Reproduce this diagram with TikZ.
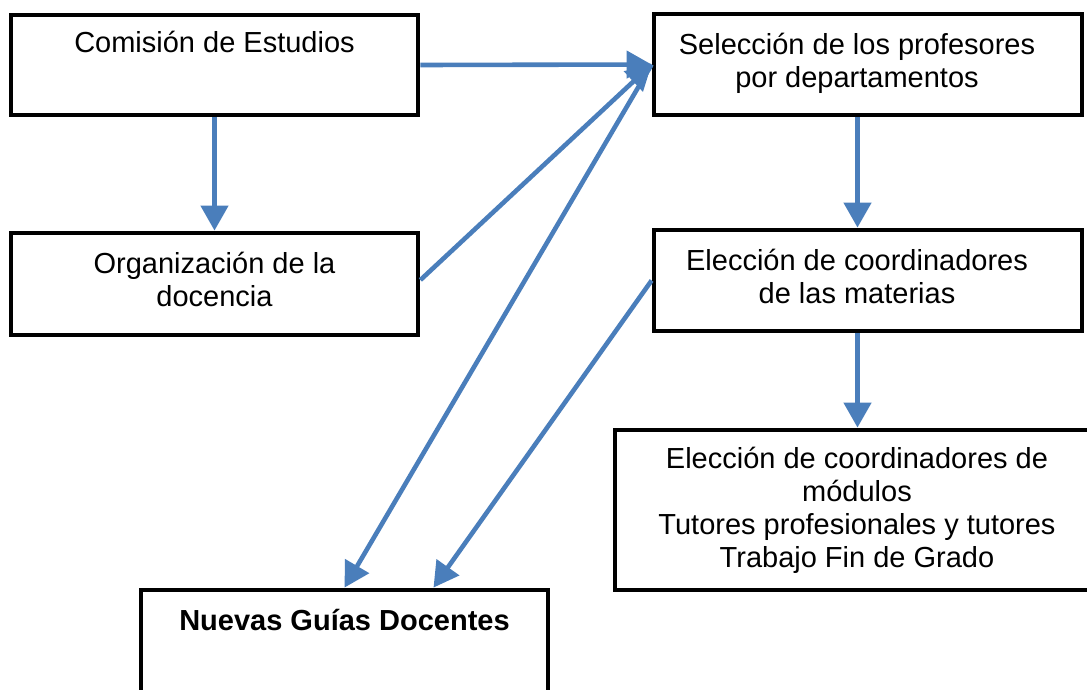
\documentclass[tikz,border=0pt]{standalone}
\usepackage{fontspec}
\setmainfont{Liberation Sans}
\usetikzlibrary{arrows.meta,calc}
\definecolor{arrowblue}{RGB}{74,126,187}
\begin{document}
\begin{tikzpicture}[x=1pt,y=-1pt,
  box/.style={draw=black, line width=4.8pt, inner sep=0pt, fill=none},
  txt/.style={anchor=base, align=center, inner sep=0pt, font=\fontsize{29}{33}\selectfont},
  conn/.style={draw=arrowblue, line width=4.6pt, -{Triangle[length=25pt,width=27pt]}}]
\useasboundingbox (0,0) rectangle (1087,690);
\fill[white] (0,0) rectangle (1087,690);
% boxes
\node[box, minimum width=407pt, minimum height=100pt] (c1) at (214.5,65) {};
\node[box, minimum width=407pt, minimum height=102pt] (c2) at (214.5,284) {};
\node[box, minimum width=428pt, minimum height=101pt] (c3) at (868,64.5) {};
\node[box, minimum width=428pt, minimum height=101pt] (c4) at (868,280.5) {};
\node[box, minimum width=485pt, minimum height=160pt] (c5) at (857.5,510) {};
\node[box, minimum width=407pt, minimum height=130pt] (c6) at (344.5,655) {};
% texts (anchor = baseline of last line)
\node[txt] (t1) at (214.5,53) {Comisión de Estudios};
\node[txt] (t2) at (214.5,306) {Organización de la\\docencia};
\node[txt] (t3) at (857,88) {Selección de los profesores\\por departamentos};
\node[txt] (t4) at (857,303) {Elección de coordinadores\\de las materias};
\node[txt] (t5) at (857,567) {Elección de coordinadores de\\módulos\\Tutores profesionales y tutores\\Trabajo Fin de Grado};
\node[txt, font=\fontsize{29}{33}\selectfont\bfseries] (t6) at (344.5,630) {Nuevas Guías Docentes};
% connectors
\draw[conn] (c1.south) -- (c2.north);
\draw[conn] (c1.east) -- (c3.west);
\draw[conn] ([yshift=4pt]c2.east) -- (c3.west);
\draw[conn] (c3.west) -- (c6.north);
\draw[conn] (c4.west) -- ([xshift=89pt]c6.north);
\draw[conn] (c5.north |- c3.south) -- (c5.north |- c4.north);
\draw[conn] (c5.north |- c4.south) -- (c5.north);
\end{tikzpicture}
\end{document}
